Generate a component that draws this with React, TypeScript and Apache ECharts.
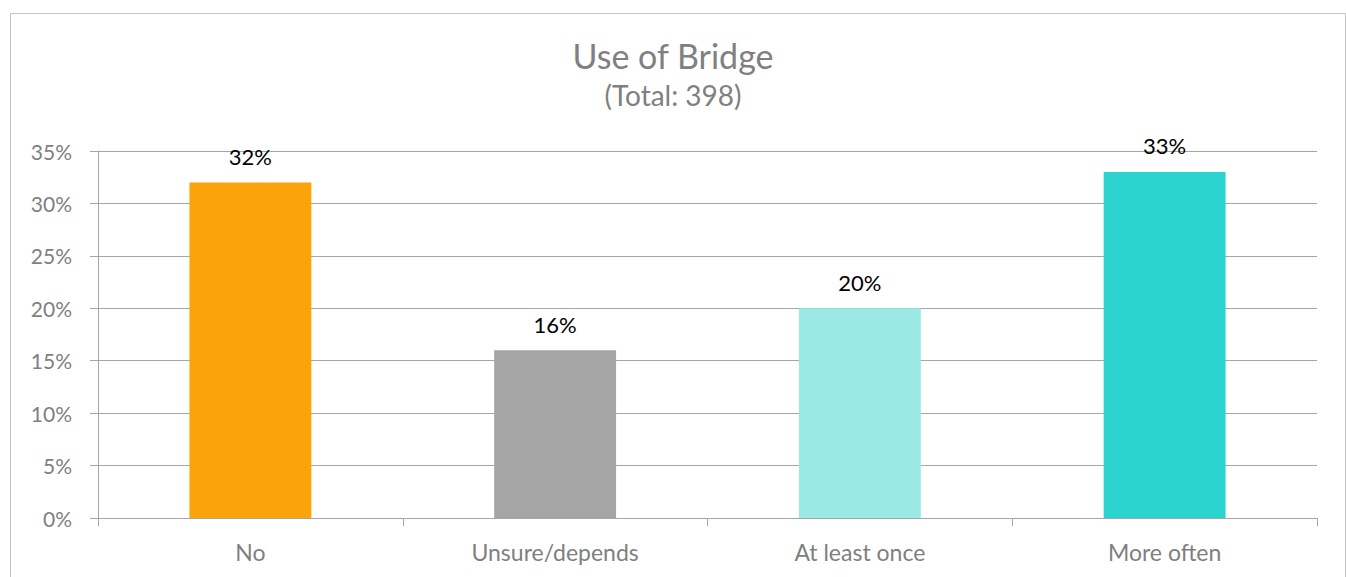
import React, { useEffect, useRef } from "react";
import * as echarts from "echarts";

const categories = ["No", "Unsure/depends", "At least once", "More often"];
const shares = [32, 16, 20, 33];
const barColors = ["#FAA30A", "#A5A5A5", "#9AE9E5", "#2BD4CE"];
const titleText = "Use of Bridge";
const subtitleText = "(Total: 398)";

const FONT = "Lato, 'Noto Sans', sans-serif";

export default function App() {
  const ref = useRef<HTMLDivElement>(null);

  useEffect(() => {
    if (!ref.current) return;
    const chart = echarts.init(ref.current, null, { renderer: "svg" });
    chart.setOption({
      animation: false,
      backgroundColor: "#ffffff",
      graphic: [
        {
          type: "rect",
          shape: { x: 10.5, y: 13.5, width: 1335, height: 600 },
          style: { fill: "none", stroke: "#c4c4c4", lineWidth: 1 },
          silent: true,
        },
      ],
      title: {
        text: titleText,
        subtext: subtitleText,
        left: "center",
        top: 33,
        itemGap: 9,
        textStyle: { fontFamily: FONT, fontSize: 34, fontWeight: "normal", color: "#808080" },
        subtextStyle: { fontFamily: FONT, fontSize: 28, color: "#808080" },
      },
      grid: { left: 98, right: 29, top: 151, bottom: 59, containLabel: false },
      xAxis: {
        type: "category",
        data: categories,
        axisLine: { show: true, lineStyle: { color: "#a6a6a6", width: 1 } },
        axisTick: { show: true, length: 8, lineStyle: { color: "#a6a6a6" } },
        axisLabel: { fontFamily: FONT, fontSize: 23, color: "#7f7f7f", margin: 22 },
      },
      yAxis: {
        type: "value",
        min: 0,
        max: 35,
        interval: 5,
        axisLine: { show: true, lineStyle: { color: "#a6a6a6", width: 1 } },
        axisTick: { show: true, length: 8, lineStyle: { color: "#a6a6a6" } },
        axisLabel: {
          fontFamily: FONT,
          fontSize: 21,
          color: "#7f7f7f",
          margin: 26,
          formatter: (v: number) => `${v}%`,
        },
        splitLine: { show: true, lineStyle: { color: "#a6a6a6", width: 1 } },
      },
      series: [
        {
          type: "bar",
          data: shares.map((v, i) => ({ value: v, itemStyle: { color: barColors[i] } })),
          barCategoryGap: "60%",
          label: {
            show: true,
            position: "top",
            distance: 15,
            fontFamily: FONT,
            fontSize: 22,
            color: "#000000",
            formatter: (p: any) => `${p.value}%`,
          },
        },
      ],
    });
    return () => chart.dispose();
  }, []);

  return (
    <div
      ref={ref}
      style={{ position: "absolute", left: 0, top: 0, width: 1346, height: 577 }}
    />
  );
}
